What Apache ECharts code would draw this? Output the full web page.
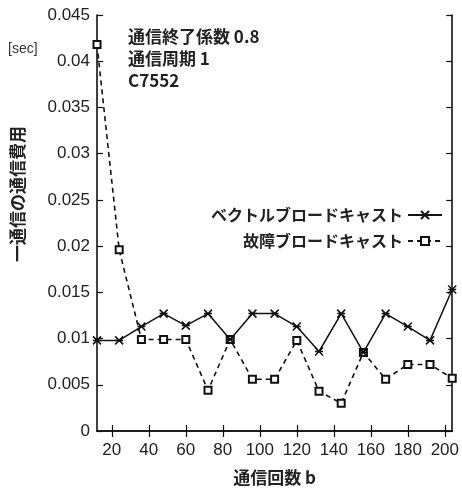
<!DOCTYPE html>
<html>
<head>
<meta charset="utf-8">
<script src="https://cdn.jsdelivr.net/npm/echarts@6/dist/echarts.min.js"></script>
<style>
  html, body { margin: 0; padding: 0; background: #fff; }
  #chart { width: 462px; height: 491px; }
</style>
</head>
<body>
<div id="chart"></div>
<script>
// 通信回数 b
const rounds = [12, 24, 36, 48, 60, 72, 84, 96, 108, 120, 132, 144, 156, 168, 180, 192, 204];
// ベクトルブロードキャスト [sec]
const vectorCost = [0.0098, 0.0098, 0.0113, 0.0127, 0.0114, 0.0127, 0.0099, 0.0127, 0.0127,
  0.0113, 0.0086, 0.0127, 0.0085, 0.0127, 0.0113, 0.0098, 0.0153];
// 故障ブロードキャスト [sec]
const faultCost = [0.0418, 0.0196, 0.0099, 0.0099, 0.0099, 0.0044, 0.0099, 0.0056, 0.0056,
  0.0098, 0.0043, 0.0030, 0.0085, 0.0056, 0.0072, 0.0072, 0.0057];
const xTicks = [20, 40, 60, 80, 100, 120, 140, 160, 180, 200];

const jp = '"Noto Sans CJK JP", "Liberation Sans", sans-serif';
const num = '"Liberation Sans", "DejaVu Sans", sans-serif';

const chart = echarts.init(document.getElementById('chart'));

const toPairs = (ys) => rounds.map((x, i) => [x, ys[i]]);

const frame = { lineStyle: { color: '#111', width: 1.6 } };

const option = {
  animation: false,
  backgroundColor: '#fff',
  title: {
    text: '通信終了係数 0.8\n通信周期 1\nC7552',
    left: 123,
    top: 21,
    textStyle: { fontFamily: jp, fontSize: 17, fontWeight: 'bold', color: '#222', lineHeight: 22 }
  },
  legend: {
    data: ['ベクトルブロードキャスト', '故障ブロードキャスト'],
    orient: 'vertical',
    align: 'right',
    right: 14,
    top: 202,
    itemGap: 10,
    itemWidth: 34,
    itemHeight: 10,
    textStyle: { fontFamily: jp, fontSize: 16, fontWeight: 'bold', color: '#222' }
  },
  grid: { left: 97, right: 2, top: 15, bottom: 56 },
  xAxis: [{
    type: 'value',
    min: 12,
    max: 204,
    name: '通信回数 b',
    nameLocation: 'middle',
    nameGap: 38,
    nameTextStyle: { fontFamily: jp, fontSize: 17, fontWeight: 'bold', color: '#222' },
    axisLine: frame,
    axisTick: { inside: true, length: 6, customValues: xTicks, lineStyle: { color: '#111', width: 1.2 } },
    axisLabel: { customValues: xTicks, fontFamily: num, fontSize: 17, color: '#222', margin: 11 },
    splitLine: { show: false }
  }, {
    type: 'value',
    position: 'top',
    min: 12,
    max: 204,
    axisLine: frame,
    axisTick: { inside: true, length: 6, customValues: xTicks, lineStyle: { color: '#111', width: 1.2 } },
    axisLabel: { show: false },
    splitLine: { show: false }
  }],
  yAxis: [{
    type: 'value',
    min: 0,
    max: 0.045,
    interval: 0.005,
    axisLine: frame,
    axisTick: { inside: true, length: 6, lineStyle: { color: '#111', width: 1.2 } },
    axisLabel: { fontFamily: num, fontSize: 17, color: '#222', margin: 7 },
    splitLine: { show: false }
  }, {
    type: 'value',
    position: 'right',
    min: 0,
    max: 0.045,
    interval: 0.005,
    axisLine: frame,
    axisTick: { inside: true, length: 6, lineStyle: { color: '#111', width: 1.2 } },
    axisLabel: { show: false },
    splitLine: { show: false }
  }],
  graphic: [{
    type: 'text',
    x: 8,
    y: 42,
    style: { text: '[sec]', fontFamily: num, fontSize: 14, fill: '#333' }
  }, {
    type: 'text',
    x: 9,
    y: 262,
    rotation: Math.PI / 2,
    style: { text: '一通信の通信費用', fontFamily: jp, fontSize: 17, fontWeight: 'bold', fill: '#222' }
  }],
  series: [{
    name: 'ベクトルブロードキャスト',
    type: 'line',
    data: toPairs(vectorCost),
    symbol: 'path://M0,0L10,10M10,0L0,10M0,5L10,5',
    symbolSize: 8,
    lineStyle: { color: '#111', width: 1.5 },
    itemStyle: { color: '#111', borderColor: '#111', borderWidth: 1.5 },
    z: 3
  }, {
    name: '故障ブロードキャスト',
    type: 'line',
    data: toPairs(faultCost),
    symbol: 'emptyRect',
    symbolSize: 7,
    lineStyle: { color: '#111', width: 1.6, type: [5, 4] },
    itemStyle: { color: '#111', borderColor: '#111', borderWidth: 2 },
    z: 2
  }]
};

chart.setOption(option);
</script>
</body>
</html>
